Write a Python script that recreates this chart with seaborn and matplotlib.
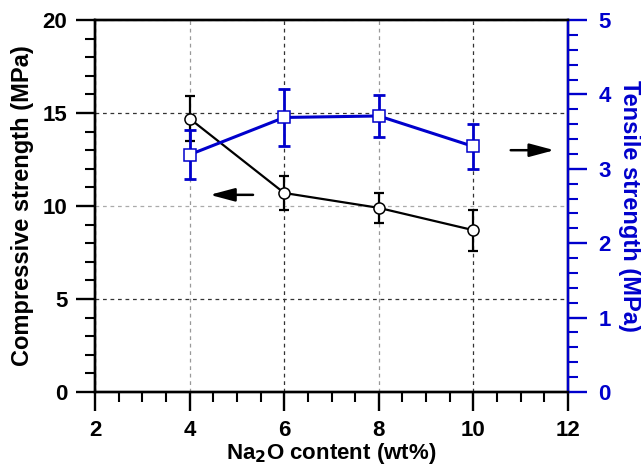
import matplotlib
matplotlib.use("Agg")
import matplotlib.pyplot as plt
import seaborn as sns
import pandas as pd
from matplotlib.ticker import MultipleLocator

sns.set_style("white")
plt.rcParams['font.family'] = ['Liberation Sans', 'DejaVu Sans']
plt.rcParams['font.weight'] = 'bold'
plt.rcParams['text.color'] = 'black'
plt.rcParams['axes.labelcolor'] = 'black'
plt.rcParams['xtick.color'] = 'black'
plt.rcParams['ytick.color'] = 'black'
plt.rcParams['mathtext.default'] = 'bf'

na2o = [4, 6, 8, 10]
compressive = [14.7, 10.7, 9.9, 8.7]
compressive_err = [1.2, 0.9, 0.8, 1.1]
tensile = [3.19, 3.69, 3.71, 3.30]
tensile_err = [0.33, 0.38, 0.28, 0.30]

df = pd.DataFrame({"Na2O": na2o, "comp": compressive, "tens": tensile})

BLUE = "#0000CC"

fig = plt.figure(figsize=(6.41, 4.68), dpi=100)
ax = fig.add_axes([95/641, 1-392/468, (568-95)/641, (392-20)/468])
ax2 = ax.twinx()

# compressive (left axis)
ax.errorbar(df["Na2O"], df["comp"], yerr=compressive_err, fmt='none', ecolor='black',
            elinewidth=1.6, capsize=3.5, capthick=1.6, zorder=3)
sns.lineplot(data=df, x="Na2O", y="comp", ax=ax, color='black', lw=1.6,
             marker='o', markersize=8, markerfacecolor='white', markeredgecolor='black',
             markeredgewidth=1.1, zorder=4)

# tensile (right axis)
ax2.errorbar(df["Na2O"], df["tens"], yerr=tensile_err, fmt='none', ecolor=BLUE,
             elinewidth=2.0, capsize=4, capthick=2.0, zorder=3)
sns.lineplot(data=df, x="Na2O", y="tens", ax=ax2, color=BLUE, lw=2.2,
             marker='s', markersize=8, markerfacecolor='white', markeredgecolor=BLUE,
             markeredgewidth=1.1, zorder=4)

ax.set_xlim(2, 12)
ax.set_ylim(0, 20)
ax2.set_ylim(0, 5)

ax.xaxis.set_major_locator(MultipleLocator(2))
ax.xaxis.set_minor_locator(MultipleLocator(0.5))
ax.yaxis.set_major_locator(MultipleLocator(5))
ax.yaxis.set_minor_locator(MultipleLocator(1))
ax2.yaxis.set_major_locator(MultipleLocator(1))
ax2.yaxis.set_minor_locator(MultipleLocator(0.2))

for a in (ax, ax2):
    for s in a.spines.values():
        s.set_linewidth(1.7)
        s.set_color('black')
ax2.spines['right'].set_color(BLUE)

ax.tick_params(axis='both', which='major', direction='out', length=14, width=1.7,
               labelsize=16, pad=6, bottom=True, left=True, colors='black')
ax.tick_params(axis='x', which='major', pad=6)
ax.tick_params(axis='both', which='minor', direction='out', length=7, width=1.5,
               bottom=True, left=True, colors='black')
ax2.tick_params(axis='y', which='major', direction='out', length=14, width=1.7,
                labelsize=16, pad=8, right=True, colors=BLUE)
ax2.tick_params(axis='y', which='minor', direction='out', length=7, width=1.5,
                right=True, colors=BLUE)
for lbl in ax.get_xticklabels() + ax.get_yticklabels() + ax2.get_yticklabels():
    lbl.set_fontweight('bold')

ax.set_xlabel("Na$_\\mathbf{2}$O content (wt%)", fontsize=16, fontweight='bold', labelpad=0)
ax.set_ylabel("Compressive strength (MPa)", fontsize=17, fontweight='bold', labelpad=6)
ax2.set_ylabel("Tensile strength (MPa)", fontsize=17, fontweight='bold', color=BLUE,
               rotation=270, labelpad=22)

# grid
ax.grid(True, which='major', linestyle=(0, (3, 3)), linewidth=0.9)
ax2.grid(False)
xg_colors = ['#333333', '#333333', '#999999', '#333333', '#999999', '#333333']
for gl, c in zip(ax.xaxis.get_gridlines(), xg_colors):
    gl.set_color(c)
yg_colors = ['#333333', '#333333', '#333333', '#aaaaaa', '#333333']
for gl, c in zip(ax.yaxis.get_gridlines(), yg_colors):
    gl.set_color(c)
ax.set_axisbelow(True)

# arrows
ax.annotate("", xy=(4.37, 10.6), xytext=(5.4, 10.6),
            arrowprops=dict(arrowstyle="-|>,head_length=1.5,head_width=0.4", color='black', lw=1.8))
ax.annotate("", xy=(11.77, 13.0), xytext=(10.73, 13.0),
            arrowprops=dict(arrowstyle="-|>,head_length=1.5,head_width=0.4", color='black', lw=1.8))

fig.savefig("out.png", dpi=100)
